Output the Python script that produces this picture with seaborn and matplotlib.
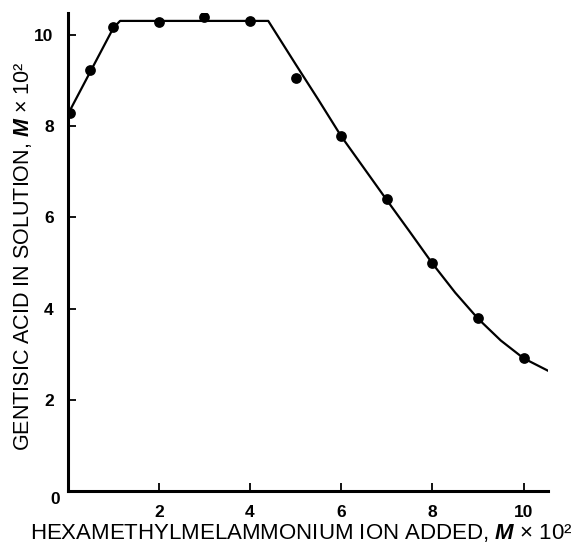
import matplotlib
matplotlib.use('Agg')
import matplotlib.pyplot as plt
import seaborn as sns
import pandas as pd

# measured points
hmm_added = [0.05, 0.5, 1.0, 2.0, 3.0, 4.0, 5.0, 6.0, 7.0, 8.0, 9.0, 10.0]
gentisic = [8.3, 9.23, 10.18, 10.29, 10.39, 10.31, 9.06, 7.79, 6.40, 4.99, 3.79, 2.92]

# hand-drawn curve through the points
curve_x = [0.0, 0.5, 1.0, 1.15, 4.40, 5.0, 5.5, 6.0, 6.5, 7.0, 7.5, 8.0, 8.5, 9.0, 9.5, 10.0, 10.55]
curve_y = [8.25, 9.2, 10.15, 10.31, 10.31, 9.36, 8.58, 7.78, 7.08, 6.38, 5.69, 4.99, 4.35, 3.78, 3.30, 2.91, 2.63]

x_ticks = [2, 4, 6, 8, 10]
y_ticks = [2, 4, 6, 8, 10]

pts = pd.DataFrame({'x': hmm_added, 'y': gentisic})
crv = pd.DataFrame({'x': curve_x, 'y': curve_y})

sns.set_style('ticks', {'axes.edgecolor': 'black', 'text.color': 'black',
                        'axes.labelcolor': 'black', 'xtick.color': 'black',
                        'ytick.color': 'black'})
plt.rcParams['font.family'] = ['Liberation Sans', 'DejaVu Sans']
plt.rcParams['mathtext.fontset'] = 'custom'
plt.rcParams['mathtext.it'] = 'Liberation Sans:italic:bold'

fig = plt.figure(figsize=(5.76, 5.43), dpi=100)
ax = fig.add_axes([0.1174, 0.0958, 0.951 - 0.1174, 0.9766 - 0.0958])

sns.lineplot(data=crv, x='x', y='y', ax=ax, color='black', linewidth=1.6, sort=False)
sns.scatterplot(data=pts, x='x', y='y', ax=ax, color='black', s=60, edgecolor='black',
                linewidth=0, zorder=3)

ax.set_xlim(0, 10.53)
ax.set_ylim(0, 10.49)
ax.set_xticks(x_ticks)
ax.set_yticks(y_ticks)
ax.set_xticklabels([str(t) for t in x_ticks], fontweight='bold', fontsize=12.5)
ax.set_yticklabels([str(t) for t in y_ticks], fontweight='bold', fontsize=12.5)
ax.tick_params(direction='in', length=6, width=1.3, pad=10, colors='black')
ax.text(-0.016, -0.018, '0', transform=ax.transAxes, ha='right', va='center',
        fontweight='bold', fontsize=12.5, color='black')

for side in ['top', 'right']:
    ax.spines[side].set_visible(False)
for side in ['left', 'bottom']:
    ax.spines[side].set_linewidth(2.2)
    ax.spines[side].set_color('black')

ax.set_xlabel('HEXAMETHYLMELAMMONIUM ION ADDED, $\\mathit{M}$ × 10²', fontsize=16, color='black')
ax.set_ylabel('GENTISIC ACID IN SOLUTION, $\\mathit{M}$ × 10²', fontsize=15.5, color='black')
ax.xaxis.set_label_coords(0.487, -0.064)
ax.yaxis.set_label_coords(-0.093, 0.49)
ax.yaxis.label.set_va('center')

fig.savefig('out.png', dpi=100)
